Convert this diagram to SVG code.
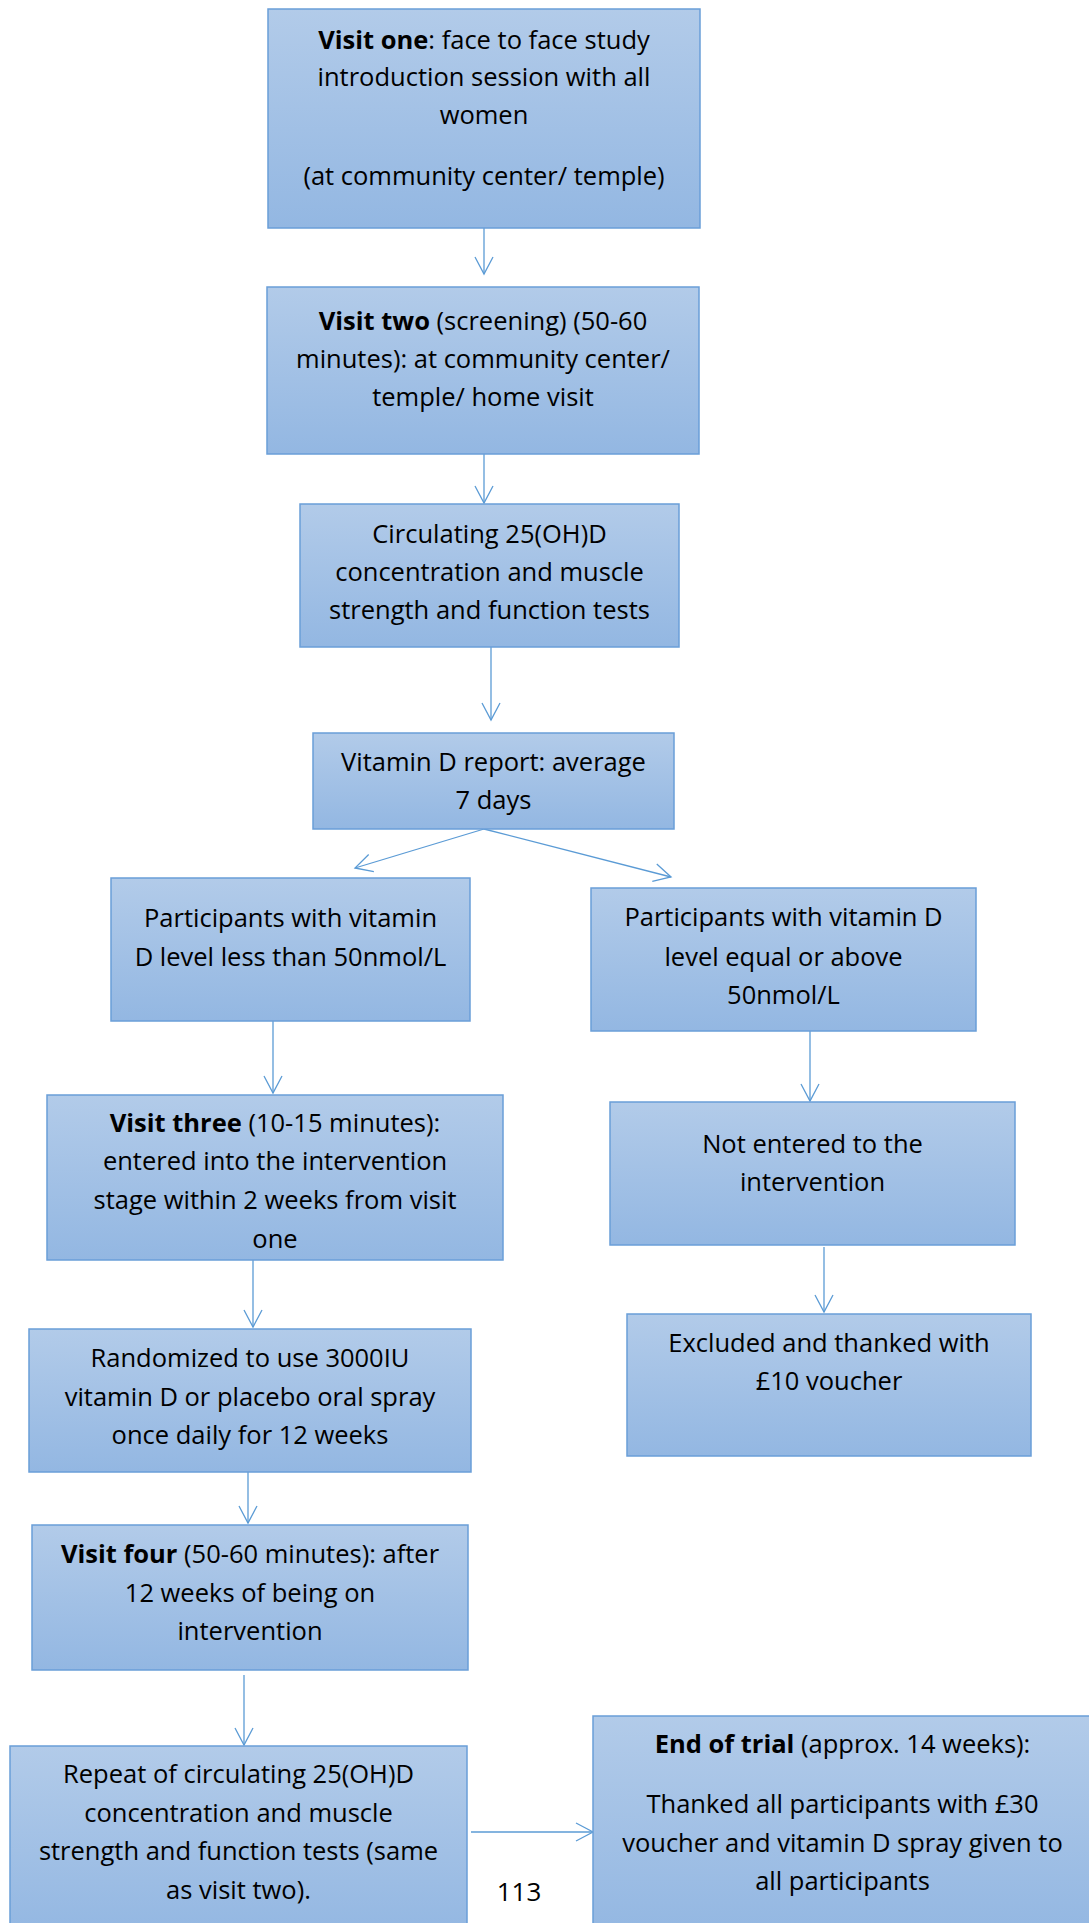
<svg xmlns="http://www.w3.org/2000/svg" width="1089" height="1923" viewBox="0 0 1089 1923">
  <defs>
    <linearGradient id="boxGrad" x1="0" y1="0" x2="0" y2="1">
      <stop offset="0" stop-color="#B2CBE9"/>
      <stop offset="1" stop-color="#93B7E2"/>
    </linearGradient>
    <marker id="arrow" markerUnits="userSpaceOnUse" markerWidth="24" markerHeight="24" viewBox="-20 -12 24 24" refX="0" refY="0" orient="auto">
      <path d="M-17,-9 L0,0 L-17,9" fill="none" stroke="#5B9BD5" stroke-width="1.3"/>
    </marker>
  </defs>
  <style>
    .box { fill: url(#boxGrad); stroke: #6A9ED8; stroke-width: 1.5; }
    .t { font-family: "Open Sans", "Liberation Sans", sans-serif; font-size: 25.5px; fill: #000; text-anchor: middle; }
    .b { font-weight: bold; }
    .conn { stroke: #5B9BD5; stroke-width: 1.3; fill: none; marker-end: url(#arrow); }
  </style>
  <rect width="1089" height="1923" fill="#FFFFFF"/>

  <g id="connectors">
    <line class="conn" x1="484" y1="228" x2="484" y2="274"/>
    <line class="conn" x1="484" y1="454" x2="484" y2="503"/>
    <line class="conn" x1="491" y1="647" x2="491" y2="720"/>
    <line class="conn" x1="484" y1="829" x2="355" y2="868"/>
    <line class="conn" x1="484" y1="829" x2="671" y2="877"/>
    <line class="conn" x1="273" y1="1021" x2="273" y2="1093"/>
    <line class="conn" x1="810" y1="1031" x2="810" y2="1101"/>
    <line class="conn" x1="824" y1="1247" x2="824" y2="1312"/>
    <line class="conn" x1="253" y1="1260" x2="253" y2="1327"/>
    <line class="conn" x1="248" y1="1472" x2="248" y2="1523"/>
    <line class="conn" x1="244" y1="1675" x2="244" y2="1745"/>
    <line class="conn" x1="471" y1="1832" x2="593" y2="1832"/>
  </g>

  <g id="visit-one">
    <rect class="box" x="268" y="9" width="432" height="219"/>
    <text class="t" x="484" y="49"><tspan class="b">Visit one</tspan>: face to face study</text>
    <text class="t" x="484" y="86">introduction session with all</text>
    <text class="t" x="484" y="124">women</text>
    <text class="t" x="484" y="185">(at community center/ temple)</text>
  </g>

  <g id="visit-two">
    <rect class="box" x="267" y="287" width="432" height="167"/>
    <text class="t" x="483" y="330"><tspan class="b">Visit two</tspan> (screening) (50-60</text>
    <text class="t" x="483" y="368">minutes): at community center/</text>
    <text class="t" x="483" y="406">temple/ home visit</text>
  </g>

  <g id="circulating">
    <rect class="box" x="300" y="504" width="379" height="143"/>
    <text class="t" x="489.5" y="543">Circulating 25(OH)D</text>
    <text class="t" x="489.5" y="581">concentration and muscle</text>
    <text class="t" x="489.5" y="619">strength and function tests</text>
  </g>

  <g id="report">
    <rect class="box" x="313" y="733" width="361" height="96"/>
    <text class="t" x="493.5" y="771">Vitamin D report: average</text>
    <text class="t" x="493.5" y="809">7 days</text>
  </g>

  <g id="less-than-50">
    <rect class="box" x="111" y="878" width="359" height="143"/>
    <text class="t" x="290.5" y="927">Participants with vitamin</text>
    <text class="t" x="290.5" y="966">D level less than 50nmol/L</text>
  </g>

  <g id="above-50">
    <rect class="box" x="591" y="888" width="385" height="143"/>
    <text class="t" x="783.5" y="926">Participants with vitamin D</text>
    <text class="t" x="783.5" y="966">level equal or above</text>
    <text class="t" x="783.5" y="1004">50nmol/L</text>
  </g>

  <g id="visit-three">
    <rect class="box" x="47" y="1095" width="456" height="165"/>
    <text class="t" x="275" y="1132"><tspan class="b">Visit three</tspan> (10-15 minutes):</text>
    <text class="t" x="275" y="1170">entered into the intervention</text>
    <text class="t" x="275" y="1209">stage within 2 weeks from visit</text>
    <text class="t" x="275" y="1248">one</text>
  </g>

  <g id="not-entered">
    <rect class="box" x="610" y="1102" width="405" height="143"/>
    <text class="t" x="812.5" y="1153">Not entered to the</text>
    <text class="t" x="812.5" y="1191">intervention</text>
  </g>

  <g id="excluded">
    <rect class="box" x="627" y="1314" width="404" height="142"/>
    <text class="t" x="829" y="1352">Excluded and thanked with</text>
    <text class="t" x="829" y="1390">£10 voucher</text>
  </g>

  <g id="randomized">
    <rect class="box" x="29" y="1329" width="442" height="143"/>
    <text class="t" x="250" y="1367">Randomized to use 3000IU</text>
    <text class="t" x="250" y="1406">vitamin D or placebo oral spray</text>
    <text class="t" x="250" y="1444">once daily for 12 weeks</text>
  </g>

  <g id="visit-four">
    <rect class="box" x="32" y="1525" width="436" height="145"/>
    <text class="t" x="250" y="1563"><tspan class="b">Visit four</tspan> (50-60 minutes): after</text>
    <text class="t" x="250" y="1602">12 weeks of being on</text>
    <text class="t" x="250" y="1640">intervention</text>
  </g>

  <g id="repeat">
    <rect class="box" x="10" y="1746" width="457" height="190"/>
    <text class="t" x="238.5" y="1783">Repeat of circulating 25(OH)D</text>
    <text class="t" x="238.5" y="1822">concentration and muscle</text>
    <text class="t" x="238.5" y="1860">strength and function tests (same</text>
    <text class="t" x="238.5" y="1899">as visit two).</text>
  </g>

  <g id="end-of-trial">
    <rect class="box" x="593" y="1716" width="499" height="220"/>
    <text class="t" x="842.5" y="1753"><tspan class="b">End of trial</tspan> (approx. 14 weeks):</text>
    <text class="t" x="842.5" y="1813">Thanked all participants with £30</text>
    <text class="t" x="842.5" y="1852">voucher and vitamin D spray given to</text>
    <text class="t" x="842.5" y="1890">all participants</text>
  </g>

  <g id="page-number">
    <text class="t" x="519" y="1901" style="font-size:26px">113</text>
  </g>
</svg>
